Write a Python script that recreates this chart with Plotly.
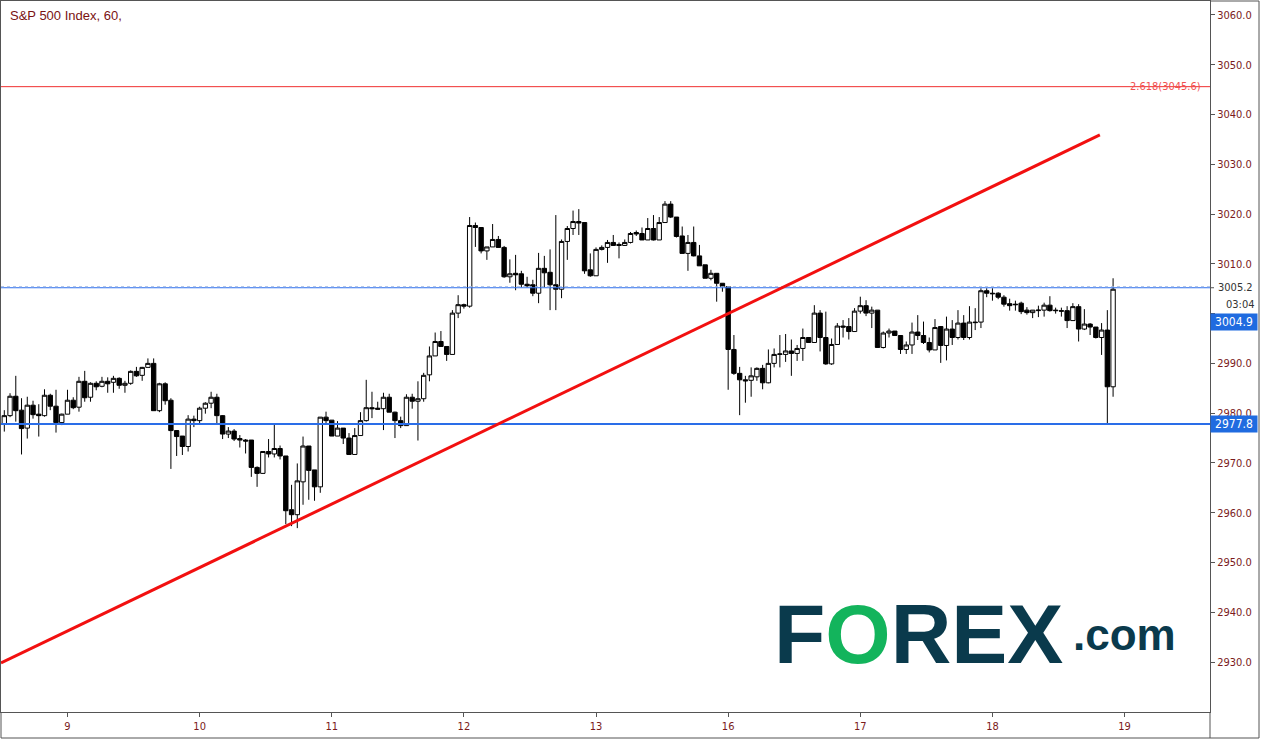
import plotly.graph_objects as go

# ---------------- data (hourly S&P 500) ----------------
opens = [2977.8,2979.5,2983.4,2980.6,2977.0,2981.6,2979.8,2979.5,2983.6,2981.4,
2978.1,2979.8,2982.6,2981.2,2986.4,2983.2,2986.0,2985.4,2986.4,2986.2,
2987.0,2985.6,2986.0,2988.4,2987.6,2989.2,2990.0,2980.5,2985.9,2982.6,
2976.5,2975.4,2973.3,2978.8,2978.5,2981.0,2982.0,2983.2,2979.5,2975.8,
2976.4,2974.9,2974.6,2974.6,2969.1,2967.9,2972.3,2971.8,2972.9,2971.4,
2960.6,2959.6,2966.2,2973.4,2968.6,2965.2,2979.2,2978.6,2975.4,2977.0,
2975.0,2971.7,2975.5,2978.5,2981.1,2981.0,2980.9,2983.2,2980.2,2978.5,
2977.5,2983.2,2982.4,2982.9,2987.7,2991.5,2994.4,2993.4,2991.8,3000.1,
3001.8,3001.5,3017.7,3017.3,3012.6,3013.4,3014.9,3013.3,3007.4,3008.1,
3008.0,3005.9,3005.8,3004.1,3009.1,3008.3,3005.8,3004.9,3014.5,3017.1,
3018.5,3018.3,3008.8,3007.6,3012.9,3013.3,3014.3,3013.9,3013.7,3014.3,
3016.3,3016.1,3014.8,3017.1,3014.8,3018.3,3022.0,3019.4,3015.6,3012.1,
3014.3,3011.6,3009.8,3007.1,3008.1,3006.1,3005.4,2992.8,2988.0,2986.7,
2986.6,2987.3,2989.0,2986.1,2990.0,2991.8,2991.8,2992.5,2992.0,2993.0,
2995.2,2994.2,3000.1,2995.2,2989.9,2993.8,2997.5,2997.4,2996.4,3000.5,
3001.6,3000.1,3000.7,2993.2,2996.1,2996.5,2995.6,2992.8,2993.7,2996.3,
2995.6,2994.2,2992.7,2997.4,2993.6,2996.9,2995.2,2998.1,2995.2,2998.3,
2998.3,3004.6,3004.1,3004.1,3003.3,3002.0,3001.9,3002.1,3000.7,3000.2,
3000.6,3000.7,3001.7,3000.7,3000.6,3000.6,2998.6,3001.4,2996.9,2997.9,
2997.3,2995.2,2996.7,2985.3]
highs = [2980.6,2984.0,2987.5,2983.0,2983.3,2982.5,2981.8,2984.8,2983.9,2984.7,
2979.9,2984.7,2983.2,2987.3,2988.5,2986.2,2986.4,2987.3,2987.2,2987.5,
2987.2,2986.5,2988.6,2989.3,2989.3,2991.0,2991.0,2986.1,2986.2,2983.0,
2976.6,2975.4,2979.6,2979.5,2981.3,2982.2,2984.3,2983.9,2979.6,2977.2,
2976.8,2975.6,2974.8,2974.6,2969.3,2972.3,2974.8,2978.0,2973.5,2971.4,
2965.6,2969.9,2975.3,2973.4,2968.6,2979.2,2980.3,2978.6,2978.4,2977.0,
2976.0,2977.0,2980.2,2986.7,2984.3,2982.3,2984.1,2983.9,2980.3,2979.3,
2983.8,2983.9,2986.4,2988.1,2993.4,2996.2,2996.5,2993.4,3000.7,3003.7,
3002.0,3019.4,3018.3,3017.3,3013.4,3018.0,3015.6,3013.6,3010.9,3011.8,
3008.6,3007.4,3006.8,3012.2,3011.6,3012.9,3019.8,3014.9,3017.6,3020.7,
3021.0,3018.3,3012.1,3013.3,3013.7,3014.8,3015.8,3014.3,3014.9,3016.4,
3016.7,3017.3,3019.2,3019.8,3019.4,3022.6,3022.6,3019.4,3017.5,3015.8,
3017.5,3013.8,3009.8,3008.8,3008.1,3006.1,3005.5,2995.7,2989.3,2987.5,
2989.2,2989.2,2989.7,2992.8,2993.0,2995.7,2995.9,2994.8,2993.7,2997.0,
2995.2,3001.7,3000.7,3000.4,2995.0,2998.1,2998.7,2999.1,3001.1,3003.4,
3002.7,3001.4,3000.7,2996.4,2997.0,2996.5,2995.6,2994.4,2998.2,2999.7,
2998.4,2995.2,2998.9,2997.4,2999.4,2998.7,3000.7,2999.7,3001.5,3001.1,
3005.1,3005.1,3005.1,3004.3,3003.7,3003.0,3002.6,3002.4,3001.3,3000.7,
3001.6,3002.2,3003.5,3001.2,3001.2,3001.5,3002.1,3001.9,3000.9,2998.1,
2997.3,2998.1,3000.7,3007.1]
lows = [2976.3,2979.2,2978.3,2971.7,2974.9,2978.9,2975.3,2979.3,2980.6,2976.1,
2977.6,2979.8,2980.8,2980.3,2982.3,2982.3,2984.6,2985.2,2984.1,2984.1,
2984.9,2984.1,2985.7,2987.3,2986.5,2989.2,2980.5,2980.2,2981.7,2968.8,
2971.4,2971.6,2972.3,2977.2,2978.0,2979.9,2981.0,2977.8,2974.8,2975.0,
2974.4,2973.1,2971.9,2967.2,2965.2,2967.8,2971.1,2971.1,2970.7,2957.7,
2957.3,2956.9,2961.6,2962.6,2962.4,2964.0,2978.0,2975.4,2975.4,2973.8,
2971.7,2971.7,2975.5,2978.3,2979.0,2980.8,2976.6,2980.2,2975.0,2977.0,
2977.5,2980.9,2974.5,2982.3,2986.4,2991.5,2993.3,2990.5,2991.8,2999.1,
3001.0,3001.2,3013.4,3012.1,3010.8,3013.4,3013.3,3007.2,3006.2,3004.7,
3005.3,3005.3,3003.5,3002.1,3005.3,3000.7,3000.7,3003.1,3010.8,3015.8,
3015.8,3008.0,3007.4,3007.6,3012.7,3010.2,3013.6,3011.1,3013.6,3014.1,
3015.6,3014.8,3014.8,3014.7,3014.8,3018.3,3019.2,3015.3,3012.1,3008.6,
3011.5,3009.6,3007.1,3006.7,3002.4,3004.4,2984.7,2987.7,2979.6,2982.1,
2983.3,2986.5,2984.8,2986.0,2989.2,2989.2,2990.3,2987.5,2990.5,2990.5,
2994.2,2994.2,2992.4,2989.7,2989.7,2993.8,2995.2,2994.8,2996.4,3000.0,
2999.5,2997.1,2993.2,2993.0,2995.2,2995.6,2991.9,2991.9,2991.9,2994.7,
2993.9,2992.2,2992.7,2990.1,2990.6,2993.7,2994.8,2994.7,2994.8,2996.7,
2997.1,3003.3,3002.6,3002.9,3001.4,3000.6,3000.6,2999.9,2999.8,2999.1,
2999.3,2999.4,3000.4,3000.0,2999.4,2997.1,2998.6,2994.4,2996.7,2995.7,
2995.0,2991.7,2977.8,2983.3]
closes = [2979.5,2983.4,2980.5,2976.9,2981.6,2979.7,2979.5,2983.6,2981.4,2978.1,
2979.8,2982.6,2981.1,2986.4,2983.1,2986.0,2985.3,2986.4,2985.9,2987.0,
2985.6,2986.0,2988.4,2987.5,2989.2,2990.0,2980.5,2985.9,2982.5,2976.5,
2975.3,2973.3,2978.8,2978.5,2981.0,2982.0,2983.2,2979.5,2975.8,2976.4,
2974.8,2974.6,2974.4,2969.1,2967.9,2972.3,2971.8,2972.9,2971.4,2960.4,
2959.6,2966.4,2973.4,2968.5,2965.2,2979.2,2978.5,2975.4,2977.0,2975.0,
2971.7,2975.5,2978.5,2981.1,2980.9,2980.8,2983.2,2980.2,2978.5,2977.5,
2983.2,2982.4,2982.9,2987.6,2991.5,2994.4,2993.4,2991.8,3000.1,3001.8,
3001.5,3017.7,3017.3,3012.6,3013.4,3014.9,3013.3,3007.4,3008.0,3007.8,
3005.9,3005.6,3004.1,3009.1,3008.2,3005.8,3004.9,3014.5,3017.1,3018.5,
3018.2,3008.6,3007.6,3012.9,3013.3,3014.3,3013.7,3013.7,3014.3,3016.1,
3016.0,3014.8,3017.1,3014.8,3018.3,3022.0,3019.4,3015.5,3012.1,3014.3,
3011.6,3009.6,3007.1,3008.1,3006.1,3005.5,2992.8,2988.0,2986.7,2986.5,
2987.5,2989.0,2986.1,2990.0,2991.8,2991.9,2992.5,2992.0,2993.0,2995.2,
2994.2,3000.1,2995.2,2989.9,2993.8,2997.5,2997.3,2996.4,3000.5,3001.6,
3000.1,3000.7,2993.2,2996.1,2996.5,2995.6,2992.8,2993.7,2996.3,2995.6,
2994.2,2992.7,2997.2,2993.6,2996.9,2995.2,2998.1,2995.2,2998.3,2998.2,
3004.6,3004.1,3004.0,3003.3,3001.9,3001.6,3001.8,3000.4,3000.2,3000.7,
3000.7,3001.7,3000.6,3000.6,3000.5,2998.6,3001.4,2996.9,2997.9,2997.3,
2995.2,2996.7,2985.3,3004.9]

bar_index = list(range(len(closes)))
day_tick_index = [11, 34, 57, 80, 103, 126, 149, 172, 195]
day_labels = ["9", "10", "11", "12", "13", "16", "17", "18", "19"]
price_ticks = [2930 + 10 * k for k in range(14)]
hidden_price_labels = [3000]          # covered by the last-price box in the reference

fib_level = 3045.6
fib_label = "2.618(3045.6)"
resistance = 3005.2
support = 2977.8
last_close = 3004.9
countdown = "03:04"
trend_start = (-0.574, 2929.8)
trend_end = (190.7, 3035.9)

# ---------------- layout geometry ----------------
W, H = 1266, 747
PL, PR, PT, PB = 1, 1210, 1, 712          # plot area in pixels


def px(X):
    return (X - PL) / (PR - PL)


def py(Y):
    return (PB - Y) / (PB - PT)


MAROON = "#7b1b1b"
AXIS = "#555555"
BLUE = "#1f6be0"
FONT = "Liberation Sans Narrow, Arial Narrow, DejaVu Sans Condensed, Liberation Sans, sans-serif"

price_text = ["" if v in hidden_price_labels else f"{v:.1f}" for v in price_ticks]

fig = go.Figure()
fig.add_trace(go.Candlestick(
    x=bar_index, open=opens, high=highs, low=lows, close=closes,
    increasing=dict(line=dict(color="#000000", width=1), fillcolor="#ffffff"),
    decreasing=dict(line=dict(color="#000000", width=1), fillcolor="#000000"),
    whiskerwidth=0, showlegend=False, hoverinfo="skip",
))

shapes = []
shapes.append(dict(type="line", xref="paper", yref="y", x0=0, x1=1, y0=fib_level, y1=fib_level,
                   line=dict(color="#f03030", width=1), layer="above"))
shapes.append(dict(type="line", xref="paper", yref="y", x0=0, x1=1, y0=resistance, y1=resistance,
                   line=dict(color="#2c6ff0", width=1), layer="above"))
shapes.append(dict(type="line", xref="paper", yref="y", x0=0, x1=1, y0=resistance + 0.2, y1=resistance + 0.2,
                   line=dict(color="#9fb6e0", width=1, dash="dot"), layer="above"))
shapes.append(dict(type="line", xref="paper", yref="y", x0=0, x1=1, y0=support, y1=support,
                   line=dict(color="#2a6de8", width=2), layer="above"))
shapes.append(dict(type="line", xref="x", yref="y", x0=trend_start[0], y0=trend_start[1],
                   x1=trend_end[0], y1=trend_end[1], line=dict(color="#f21010", width=3), layer="above"))
yb = py(738)
xr = px(1259)
shapes += [
    dict(type="line", xref="paper", yref="paper", x0=0, x1=xr, y0=yb, y1=yb, line=dict(color=AXIS, width=1)),
    dict(type="line", xref="paper", yref="paper", x0=xr, x1=xr, y0=yb, y1=1, line=dict(color=AXIS, width=1)),
    dict(type="line", xref="paper", yref="paper", x0=1, x1=1, y0=yb, y1=0, line=dict(color=AXIS, width=1)),
    dict(type="line", xref="paper", yref="paper", x0=0, x1=0, y0=yb, y1=0, line=dict(color=AXIS, width=1)),
    dict(type="line", xref="paper", yref="paper", x0=1, x1=xr, y0=1, y1=1, line=dict(color=AXIS, width=1)),
    dict(type="line", xref="paper", yref="y", x0=1, x1=px(1214), y0=resistance, y1=resistance,
         line=dict(color=AXIS, width=1)),
]

ann = []
ann.append(dict(text="S&P 500 Index, 60,", xref="paper", yref="paper", x=px(8), y=py(15),
                xanchor="left", yanchor="middle", showarrow=False,
                font=dict(family="Liberation Sans, Arial, sans-serif", size=13, color="#7a1212")))
ann.append(dict(text=fib_label, xref="paper", yref="y", x=px(1203), y=fib_level,
                xanchor="right", yanchor="middle", showarrow=False,
                font=dict(family=FONT, size=11, color="#f05050")))
ann.append(dict(text=f"{resistance:.1f}", xref="paper", yref="y", x=px(1216), y=resistance,
                xanchor="left", yanchor="middle", showarrow=False,
                font=dict(family=FONT, size=11, color="#333333")))
ann.append(dict(text=countdown, xref="paper", yref="paper", x=px(1224), y=py(305),
                xanchor="left", yanchor="middle", showarrow=False,
                font=dict(family=FONT, size=11, color="#333333")))
ann.append(dict(text=f"{last_close:.1f}", xref="paper", yref="paper", x=px(1210), y=py(322.5),
                xanchor="left", yanchor="middle", showarrow=False, width=46, height=16,
                bgcolor=BLUE, borderpad=0, align="center",
                font=dict(family=FONT, size=12, color="#ffffff")))
ann.append(dict(text=f"{support:.1f}", xref="paper", yref="y", x=px(1210), y=support,
                xanchor="left", yanchor="middle", showarrow=False, width=46, height=16,
                bgcolor=BLUE, borderpad=0, align="center",
                font=dict(family=FONT, size=12, color="#ffffff")))
ann.append(dict(text="F<span style='color:#13b45c'>O</span>REX", xref="paper", yref="paper",
                x=px(772), y=py(634), xanchor="left", yanchor="middle", showarrow=False,
                font=dict(family="Liberation Sans, Arial, sans-serif", size=84, color="#0a3a4c", weight="bold")))
ann.append(dict(text=".com", xref="paper", yref="paper",
                x=px(1071), y=py(634), xanchor="left", yanchor="middle", showarrow=False,
                font=dict(family="Liberation Sans, Arial, sans-serif", size=44, color="#0a3a4c", weight="bold")))

fig.update_layout(
    width=W, height=H,
    margin=dict(l=PL, r=W - PR, t=PT, b=H - PB, pad=0),
    paper_bgcolor="#ffffff", plot_bgcolor="#ffffff",
    boxgap=0.2, boxgroupgap=0.05,
    shapes=shapes, annotations=ann, showlegend=False,
    xaxis=dict(range=[-0.574, 209.87], rangeslider=dict(visible=False), showgrid=False, zeroline=False,
               tickmode="array", tickvals=day_tick_index, ticktext=day_labels,
               ticks="outside", ticklen=4, tickcolor=AXIS, showline=True, linecolor=AXIS, linewidth=1,
               mirror=True, tickfont=dict(family=FONT, size=11, color=MAROON)),
    yaxis=dict(side="right", range=[2919.96, 3062.81], showgrid=False, zeroline=False,
               tickmode="array", tickvals=price_ticks, ticktext=price_text,
               ticks="outside", ticklen=4, tickcolor=AXIS, showline=True, linecolor=AXIS, linewidth=1,
               mirror=True, tickfont=dict(family=FONT, size=11, color=MAROON)),
)

fig.write_html("out.html", config={"displayModeBar": False},
               post_script="document.body.style.margin='0';document.body.style.overflow='hidden';")
